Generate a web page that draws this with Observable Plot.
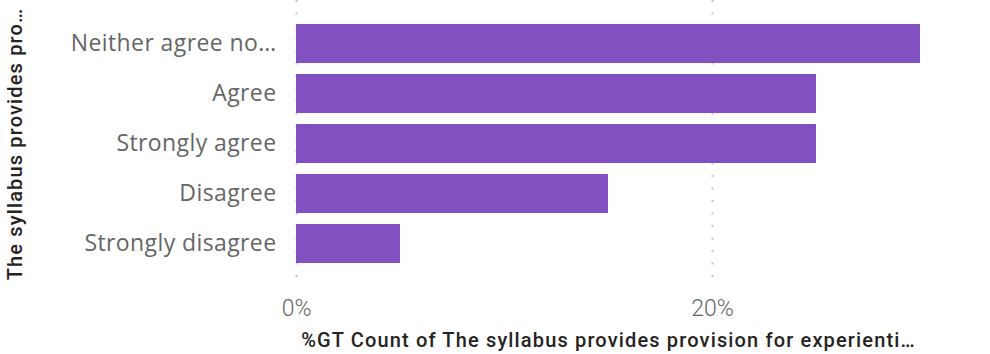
<!DOCTYPE html>
<html><head><meta charset="utf-8">
<script src="https://cdn.jsdelivr.net/npm/d3@7"></script>
<script src="https://cdn.jsdelivr.net/npm/@observablehq/plot@0.6"></script>
<style>body{margin:0;background:#fff} svg{display:block}</style>
</head><body><div id="chart"></div>
<script>
const categories = ["Neither agree no…", "Agree", "Strongly agree", "Disagree", "Strongly disagree"];
const percents = [30, 25, 25, 15, 5];
const xTicks = [0, 20];
const yTitle = "The syllabus provides pro…";
const xTitle = "%GT Count of The syllabus provides provision for experienti…";

const data = categories.map((c, i) => ({category: c, value: percents[i]}));
const titleFont = "Roboto, 'DejaVu Sans', sans-serif";
const tickFont = "'Segoe UI', 'Open Sans', sans-serif";

const chart = Plot.plot({
  width: 990, height: 354,
  marginLeft: 296, marginRight: 70, marginTop: 0, marginBottom: 67,
  style: {fontFamily: tickFont, background: "#fff"},
  x: {domain: [0, 30]},
  y: {domain: categories, paddingInner: 0.22, paddingOuter: 0.48},
  marks: [
    Plot.ruleX(xTicks, {stroke: "#c4c4c4", strokeWidth: 2, strokeDasharray: "2,10.5"}),
    Plot.barX(data, {x: "value", y: "category", fill: "#8250C1"}),
    Plot.axisY({tickSize: 0, tickPadding: 20, fontSize: 23, fill: "#666666", label: null, fontFamily: tickFont}),
    Plot.axisX(xTicks, {tickSize: 0, tickPadding: 12, fontSize: 23, fill: "#666666", label: null, fontFamily: titleFont, fontWeight: 300, tickFormat: d => d + "%"}),
    Plot.text([yTitle], {frameAnchor: "left", dx: -281, rotate: -90, textAnchor: "middle", fontSize: 20, fontWeight: 500, fill: "#252423", fontFamily: titleFont}),
    Plot.text([xTitle], {frameAnchor: "bottom", dy: 59, textAnchor: "middle", fontSize: 20, fontWeight: 500, fill: "#252423", fontFamily: titleFont})
  ]
});
chart.querySelectorAll("g[aria-label='y-axis tick label'] text").forEach(t => t.style.letterSpacing = "0.4px");
chart.querySelectorAll("g[aria-label='text'] text").forEach(t => t.style.letterSpacing = "1.15px");
document.getElementById("chart").appendChild(chart);
</script>
</body></html>
